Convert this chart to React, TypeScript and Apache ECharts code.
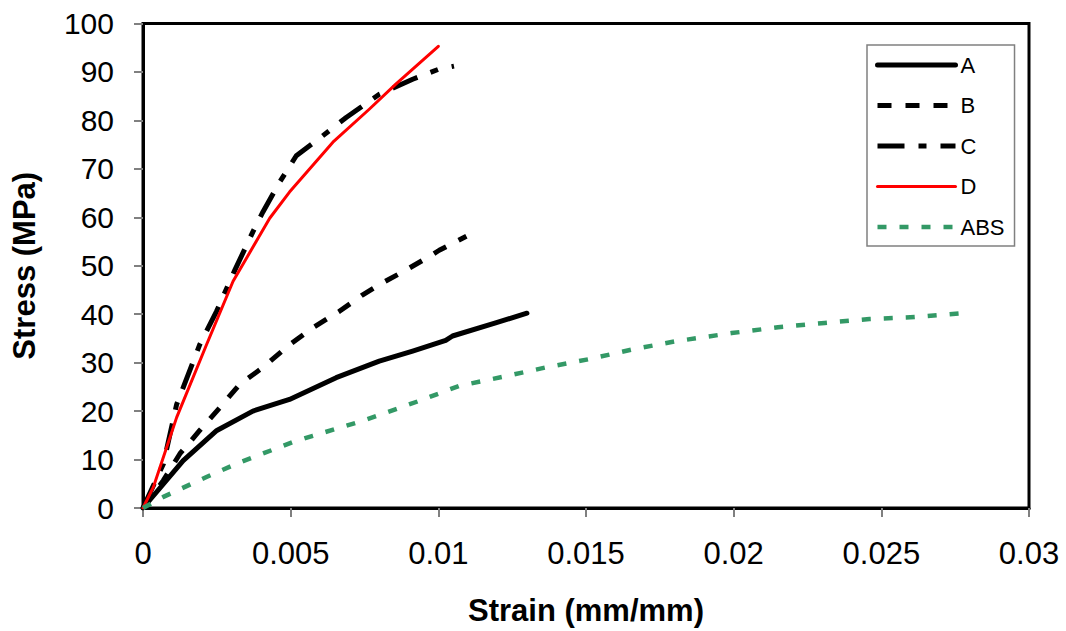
import React, { useEffect, useRef } from "react";
import * as echarts from "echarts";

// Strain (mm/mm), Stress (MPa) pairs
const seriesNames = ["A", "B", "C", "D", "ABS"];

const dataA: [number, number][] = [
  [0, 0], [0.00136, 9.8], [0.0025, 16], [0.00372, 20], [0.00496, 22.4],
  [0.00654, 26.9], [0.008, 30.3], [0.00913, 32.4], [0.01025, 34.6],
  [0.01048, 35.5], [0.01194, 38.2], [0.013, 40.2],
];

const dataB: [number, number][] = [
  [0, 0], [0.00069, 5.7], [0.00125, 11.2], [0.00192, 16], [0.0026, 20.7],
  [0.00327, 25.5], [0.00406, 29], [0.00496, 33.7], [0.00575, 37.2],
  [0.00665, 40.6], [0.00744, 44], [0.008, 46.1], [0.0089, 49.1],
  [0.00969, 51.9], [0.01003, 53.2], [0.01095, 56.1],
];

const dataC: [number, number][] = [
  [0, 0], [0.00069, 9.1], [0.00114, 21.4], [0.00192, 33.7], [0.00249, 40.6],
  [0.00311, 49.1], [0.00372, 57], [0.00406, 61.1], [0.00463, 67.3],
  [0.00519, 72.7], [0.00587, 75.8], [0.00688, 80.6], [0.008, 85.4],
  [0.00913, 88.5], [0.01003, 90.6], [0.01053, 91.2],
];

const dataD: [number, number][] = [
  [0, 0], [0.00035, 4.3], [0.00114, 18.7], [0.00215, 33.7], [0.00305, 46.8],
  [0.00429, 59.8], [0.00496, 65.2], [0.00643, 75.5], [0.00766, 82.3],
  [0.00856, 87.5], [0.01, 95.3],
];

const dataABS: [number, number][] = [
  [0, 0], [0.00069, 2.3], [0.00215, 6.4], [0.00327, 9.4], [0.00507, 13.6],
  [0.00575, 14.9], [0.00744, 18], [0.00935, 22.1], [0.0107, 25.2],
  [0.01228, 27.2], [0.01363, 29], [0.01509, 30.7], [0.01655, 32.7],
  [0.01802, 34.4], [0.01993, 36.1], [0.0215, 37.3], [0.02308, 38.2],
  [0.0246, 39], [0.02613, 39.4], [0.0277, 40.2],
];

const xTicks = [0, 0.005, 0.01, 0.015, 0.02, 0.025, 0.03];
const yTicks = [0, 10, 20, 30, 40, 50, 60, 70, 80, 90, 100];

const FONT = '"Liberation Sans", Arial, sans-serif';

export default function App() {
  const ref = useRef<HTMLDivElement>(null);

  useEffect(() => {
    if (!ref.current) return;
    const chart = echarts.init(ref.current, undefined, { renderer: "svg" });

    const mk = (name: string, data: [number, number][], color: string, width: number, type: any, cap: any) => ({
      name,
      type: "line",
      data,
      symbol: "none",
      smooth: false,
      lineStyle: { color, width, type, cap, join: "round" },
      itemStyle: { color },
      z: 3,
    });

    chart.setOption({
      animation: false,
      backgroundColor: "#ffffff",
      textStyle: { fontFamily: FONT },
      grid: {
        left: 143,
        top: 23.5,
        width: 886,
        height: 487.5,
        show: true,
        borderColor: "#000000",
        borderWidth: 3,
        backgroundColor: "transparent",
      },
      legend: {
        orient: "vertical",
        left: 867,
        top: 45,
        data: seriesNames,
        itemWidth: 78,
        itemHeight: 20,
        itemGap: 18.5,
        padding: [9, 10, 8, 8],
        borderColor: "#808080",
        borderWidth: 1.5,
        backgroundColor: "#ffffff",
        textStyle: { fontSize: 22, color: "#000", fontFamily: FONT, lineHeight: 22 },
        lineStyle: { width: "inherit" },
        itemStyle: { color: "rgba(0,0,0,0)", opacity: 0, borderWidth: 0 },
      },
      xAxis: {
        type: "value",
        min: 0,
        max: 0.03,
        interval: 0.005,
        name: "Strain (mm/mm)",
        nameLocation: "middle",
        nameGap: 87,
        nameTextStyle: { fontSize: 31, fontWeight: "bold", color: "#000", fontFamily: FONT },
        axisLine: { show: true, onZero: false, lineStyle: { color: "#000", width: 3 } },
        axisTick: { show: true, length: 9, lineStyle: { color: "#808080", width: 2 } },
        axisLabel: {
          fontSize: 31,
          color: "#000",
          margin: 30,
          fontFamily: FONT,
          formatter: (v: number) => {
            const found = xTicks.find((t) => Math.abs(t - v) < 1e-9);
            return String(found !== undefined ? found : v);
          },
        },
        splitLine: { show: false },
      },
      yAxis: {
        type: "value",
        min: 0,
        max: 100,
        interval: 10,
        name: "Stress (MPa)",
        nameLocation: "middle",
        nameGap: 103,
        nameTextStyle: { fontSize: 31, fontWeight: "bold", color: "#000", fontFamily: FONT },
        axisLine: { show: true, lineStyle: { color: "#000", width: 3 } },
        axisTick: { show: true, length: 9, lineStyle: { color: "#808080", width: 2 } },
        axisLabel: {
          fontSize: 30,
          color: "#000",
          margin: 29,
          fontFamily: FONT,
          formatter: (v: number) => String(yTicks.find((t) => t === v) ?? v),
        },
        splitLine: { show: false },
      },
      series: [
        mk("A", dataA, "#000000", 5, "solid", "round"),
        mk("B", dataB, "#000000", 5, [14, 14], "butt"),
        mk("C", dataC, "#000000", 5, [27, 14, 8, 14], "butt"),
        mk("D", dataD, "#ff0000", 3, "solid", "round"),
        mk("ABS", dataABS, "#339966", 4.5, [9, 13], "butt"),
      ],
    });

    return () => chart.dispose();
  }, []);

  return (
    <div
      ref={ref}
      style={{ position: "absolute", left: 0, top: 0, width: 1066, height: 631 }}
    />
  );
}
